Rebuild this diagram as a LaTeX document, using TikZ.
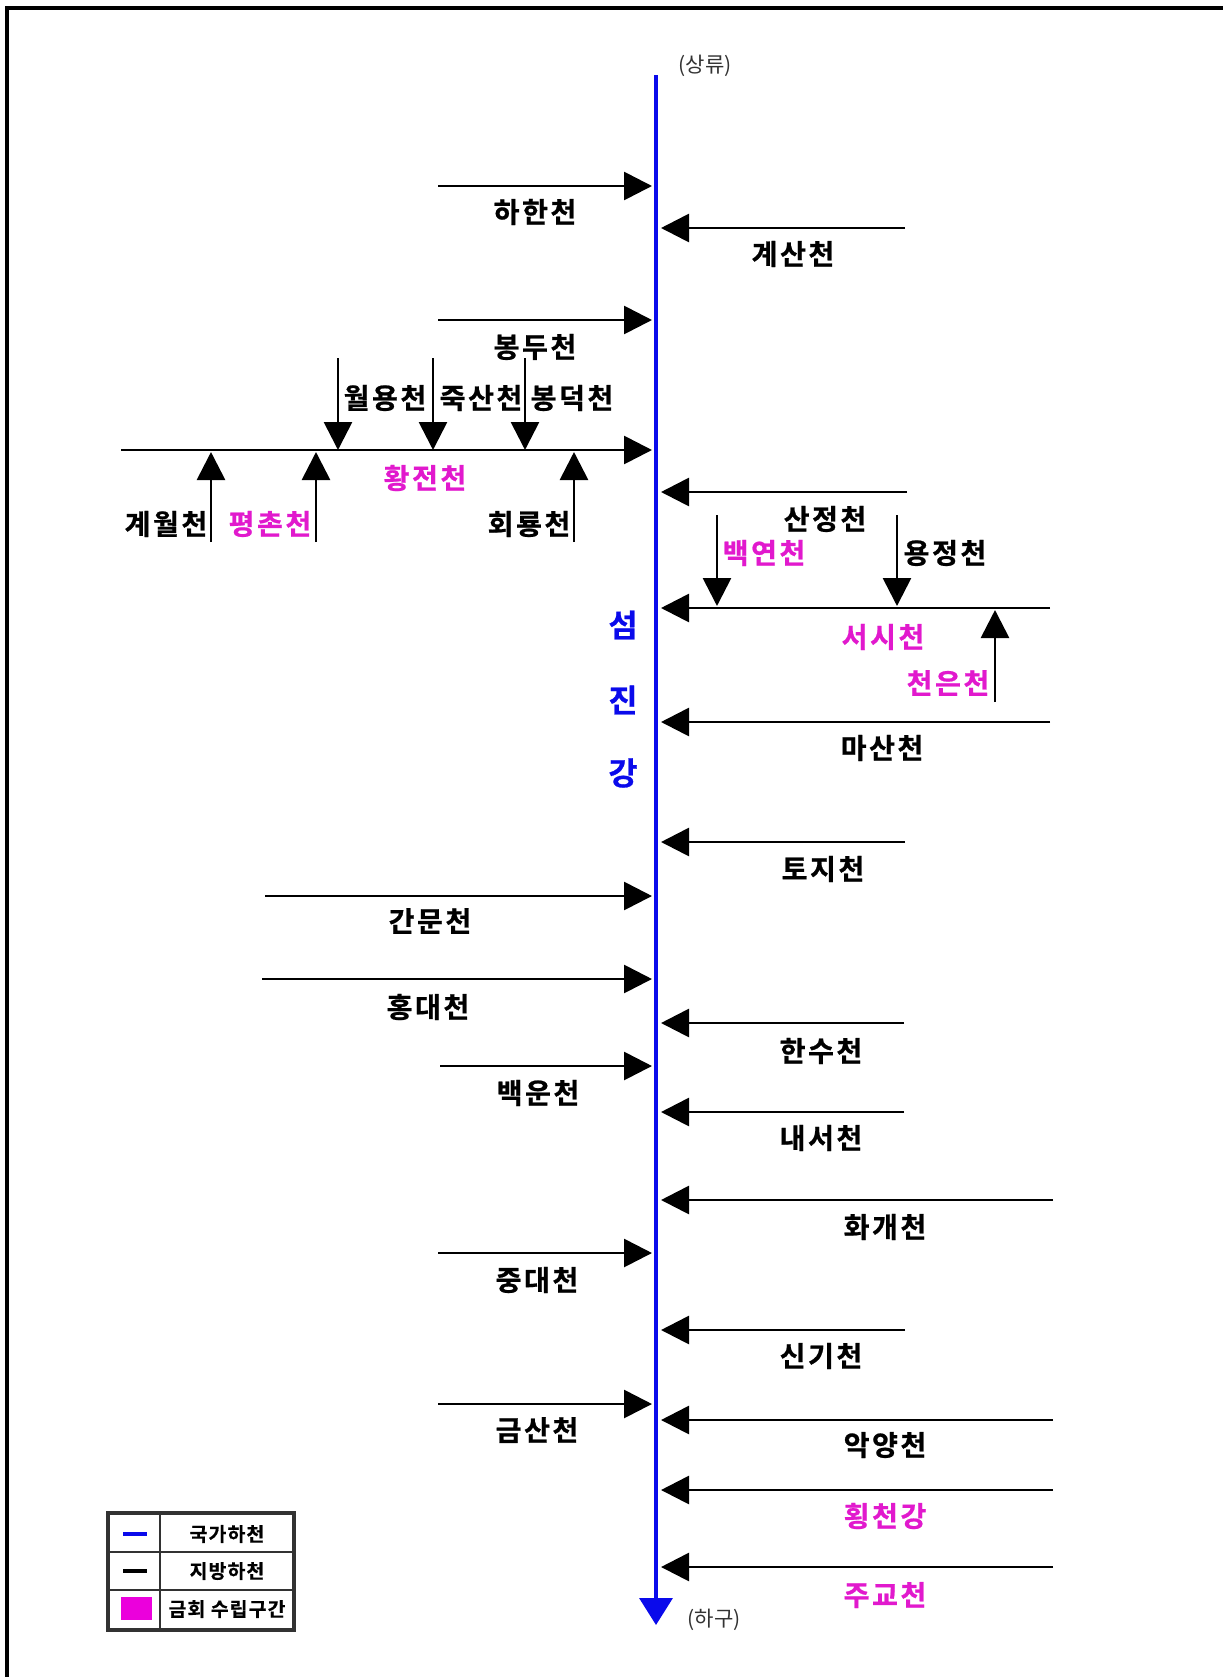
\documentclass[tikz,border=0pt]{standalone}
\usepackage{fontspec}
\newfontfamily\kr{Noto Sans CJK KR}
\newfontfamily\krb{Noto Sans CJK KR Bold}[LetterSpace=9,FakeBold=0.8]
\newfontfamily\krl{Noto Sans CJK KR Bold}[LetterSpace=6,FakeBold=0.6]
\usetikzlibrary{arrows.meta}
\definecolor{rivblue}{RGB}{10,10,235}
\definecolor{mag}{RGB}{225,25,205}
\definecolor{legmag}{RGB}{235,0,220}
\definecolor{framegray}{RGB}{50,50,50}
\begin{document}
\begin{tikzpicture}[x=0.02cm,y=-0.02cm,
  trib/.style={line width=0.055cm,-{Triangle[length=0.56cm,width=0.56cm]}},
  river/.style={rivblue,line width=0.07cm,-{Triangle[length=0.54cm,width=0.66cm]}},
  lbl/.style={font=\krb\fontsize{16}{16}\selectfont,inner sep=0pt},
  mlbl/.style={lbl,text=mag},
  rlbl/.style={font=\krb\fontsize{18}{18}\selectfont,inner sep=0pt,text=rivblue},
  endlbl/.style={font=\kr\fontsize{12}{12}\selectfont,inner sep=0pt,text=black!80},
  leglbl/.style={font=\krl\fontsize{11}{11}\selectfont,inner sep=0pt},
  legline/.style={line width=0.075cm}]
\useasboundingbox (0,0) rectangle (1223,1677);
% frame
\draw[line width=0.07cm] (7,1677) -- (7,8) -- (1223,8);

% main river
\coordinate (src) at (656,75);
\coordinate (mouth) at (656,1625);
\draw[river] (src) -- (mouth);
\node[endlbl] (up) at (705,66) {(상류)};
\node[endlbl] (down) at (714,1620) {(하구)};
\node[rlbl] (r1) at (623,625) {섬};
\node[rlbl] (r2) at (623,700) {진};
\node[rlbl] (r3) at (623,773) {강};

% left tributaries
\foreach \n/\y/\xs/\lx/\ly/\t/\s in {
  hahan/186/438/535/212/하한천/lbl,
  bongdu/320/438/535/347/봉두천/lbl,
  ganmun/896/265/430/921/간문천/lbl,
  hongdae/979/262/428/1007/홍대천/lbl,
  baekun/1066/440/538/1093/백운천/lbl,
  jungdae/1253/438/537/1280/중대천/lbl,
  geumsan/1404/438/537/1430/금산천/lbl}{
  \coordinate (\n-s) at (\xs,\y);
  \coordinate (\n-e) at (652,\y);
  \draw[trib] (\n-s) -- (\n-e);
  \node[\s] (\n) at (\lx,\ly) {\t};
}

% right tributaries
\foreach \n/\y/\xs/\lx/\ly/\t/\s in {
  gyesan/228/905/793/254/계산천/lbl,
  sanjeong/492/907/825/519/산정천/lbl,
  seosi/608/1050/883/637/서시천/mlbl,
  masan/722/1050/882/748/마산천/lbl,
  toji/842/905/823/869/토지천/lbl,
  hansu/1023/904/821/1051/한수천/lbl,
  naeseo/1112/904/821/1138/내서천/lbl,
  hwagae/1200/1053/885/1227/화개천/lbl,
  singi/1330/905/821/1356/신기천/lbl,
  akyang/1420/1053/885/1445/악양천/lbl,
  hoengcheon/1490/1053/885/1516/횡천강/mlbl,
  jugyo/1567/1053/885/1595/주교천/mlbl}{
  \coordinate (\n-s) at (\xs,\y);
  \coordinate (\n-e) at (661,\y);
  \draw[trib] (\n-s) -- (\n-e);
  \node[\s] (\n) at (\lx,\ly) {\t};
}

% Hwangjeoncheon system
\coordinate (hwang-s) at (121,450);
\coordinate (hwang-e) at (652,450);
\draw[trib] (hwang-s) -- (hwang-e);
\node[mlbl] (hwang) at (425,478) {황전천};
\foreach \n/\x/\lx/\t/\s in {
  wolyong/338/385/월용천/lbl,
  juksan/433/481/죽산천/lbl,
  bongdeok/525/572/봉덕천/lbl}{
  \coordinate (\n-s) at (\x,358);
  \coordinate (\n-e) at (\x,450);
  \draw[trib] (\n-s) -- (\n-e);
  \node[\s] (\n) at (\lx,398) {\t};
}
\foreach \n/\x/\lx/\t/\s in {
  gyewol/211/166/계월천/lbl,
  pyeongchon/316/270/평촌천/mlbl,
  hoeryong/574/529/회룡천/lbl}{
  \coordinate (\n-s) at (\x,542);
  \coordinate (\n-e) at (\x,452);
  \draw[trib] (\n-s) -- (\n-e);
  \node[\s] (\n) at (\lx,524) {\t};
}

% Seosicheon system
\foreach \n/\x/\lx/\t/\s in {
  baekyeon/717/764/백연천/mlbl,
  yongjeong/897/945/용정천/lbl}{
  \coordinate (\n-s) at (\x,515);
  \coordinate (\n-e) at (\x,606);
  \draw[trib] (\n-s) -- (\n-e);
  \node[\s] (\n) at (\lx,553) {\t};
}
\coordinate (cheoneun-s) at (995,702);
\coordinate (cheoneun-e) at (995,610);
\draw[trib] (cheoneun-s) -- (cheoneun-e);
\node[mlbl] (cheoneun) at (948,683) {천은천};

% legend
\draw[line width=0.07cm,framegray] (108,1513) rectangle (294,1630);
\draw[line width=0.04cm,framegray] (160,1513) -- (160,1630);
\draw[line width=0.04cm,framegray] (108,1552) -- (294,1552);
\draw[line width=0.04cm,framegray] (108,1590) -- (294,1590);
\coordinate (lg1a) at (123,1534); \coordinate (lg1b) at (147,1534);
\draw[legline,rivblue] (lg1a) -- (lg1b);
\coordinate (lg2a) at (123,1571); \coordinate (lg2b) at (147,1571);
\draw[legline,black] (lg2a) -- (lg2b);
\fill[legmag] (121,1597) rectangle (152,1620);
\node[leglbl] (l1) at (227,1534) {국가하천};
\node[leglbl] (l2) at (227,1571) {지방하천};
\node[leglbl] (l3) at (227,1609) {금회 수립구간};
\end{tikzpicture}
\end{document}
